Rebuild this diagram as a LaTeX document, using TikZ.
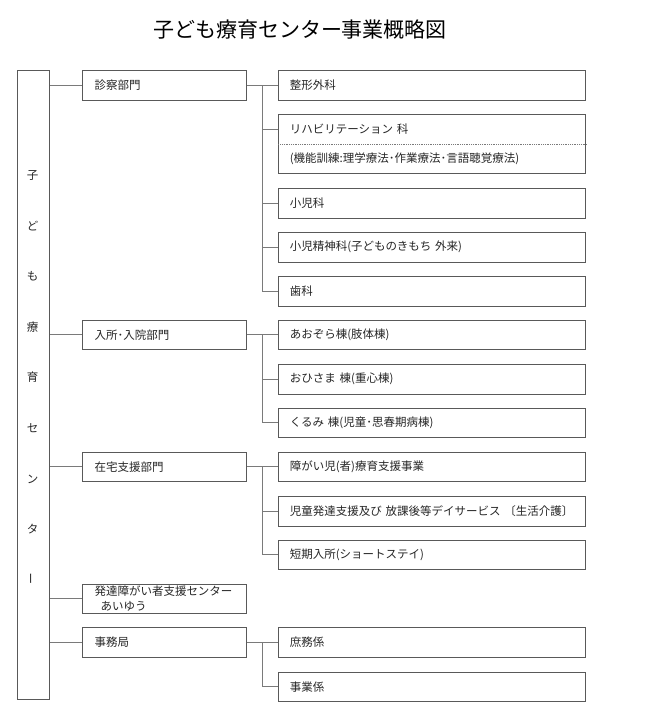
\documentclass[tikz,border=0pt]{standalone}
\usepackage{fontspec}
\setmainfont{Noto Sans CJK JP}
\usepackage{graphicx}
\usetikzlibrary{calc}
\definecolor{boxline}{HTML}{595959}
\definecolor{conline}{HTML}{7A7A7A}
\definecolor{txt}{HTML}{262626}
\begin{document}
\begin{tikzpicture}[x=1pt,y=-1pt,
  box/.style={draw=boxline, line width=1pt, rectangle, anchor=north west, inner ysep=0pt, text=txt, font=\fontsize{11.5}{14}\selectfont},
  dept/.style={box, minimum width=163.7pt, minimum height=29.5pt, inner xsep=12pt, text width=139.7pt, align=left},
  unit/.style={box, minimum width=307pt, minimum height=29.5pt, inner xsep=11pt, text width=285pt, align=left},
  conn/.style={draw=conline, line width=1pt},
  divider/.style={draw=conline, line width=0.8pt, densely dotted},
  vtext/.style={text=txt, align=center, inner sep=0pt, font=\fontsize{11.5}{50.6}\selectfont},
  titletext/.style={text=black, inner sep=0pt, font=\fontsize{21}{25}\selectfont}]
\useasboundingbox (0,0) rectangle (650,702);
\fill[white] (0,0) rectangle (650,702);

\node[titletext] (title) at (300,30) {子ども療育センター事業概略図};

% root box
\node[box, minimum width=32.6pt, minimum height=628.4pt, inner xsep=0pt] (root) at (16.7,70.3) {};
\node[vtext] (roottext) at (32.7,377.5) {子\\ど\\も\\療\\育\\セ\\ン\\タ\\\rotatebox{90}{ー}};

% departments
\node[dept] (d1) at (82,70.3) {診察部門};
\node[dept] (d2) at (82,319.7) {入所･入院部門};
\node[dept] (d3) at (82,451.7) {在宅支援部門};
\node[dept, font=\fontsize{11.5}{15}\selectfont] (d4) at (82,583.7) {発達障がい者支援センター\\\hspace*{6pt}あいゆう};
\node[dept] (d5) at (82,627.3) {事務局};

% units
\node[unit] (u1) at (278.3,70.3) {整形外科};
\node[unit, minimum height=59pt, font=\fontsize{11.5}{29.5}\selectfont] (u2) at (278.3,114.3) {リハビリテーション 科\\(機能訓練:理学療法･作業療法･言語聴覚療法)};
\node[unit] (u3) at (278.3,188.3) {小児科};
\node[unit] (u4) at (278.3,232) {小児精神科(子どものきもち 外来)};
\node[unit] (u5) at (278.3,276) {歯科};

\node[unit] (u6) at (278.3,319.7) {あおぞら棟(肢体棟)};
\node[unit] (u7) at (278.3,364) {おひさま 棟(重心棟)};
\node[unit] (u8) at (278.3,407.7) {くるみ 棟(児童･思春期病棟)};

\node[unit] (u9) at (278.3,451.7) {障がい児(者)療育支援事業};
\node[unit] (u10) at (278.3,496) {児童発達支援及び~放課後等デイサービス~〔生活介護〕};
\node[unit] (u11) at (278.3,539.7) {短期入所(ショートステイ)};

\node[unit] (u12) at (278.3,627.3) {庶務係};
\node[unit] (u13) at (278.3,671.7) {事業係};

\draw[divider] (u2.west) -- (u2.east);
\coordinate (u2top) at ($(u2.north west)!0.25!(u2.south west)$);

% root to departments
\foreach \d in {d1,d2,d3,d4,d5}
  \draw[conn] (root.east |- \d.west) -- (\d.west);

% trunks
\coordinate (t1) at ($(d1.east)!0.5!(u1.west)$);
\draw[conn] (d1.east) -- (u1.west);
\draw[conn] (t1) |- (u5.west);
\draw[conn] (t1 |- u2top) -- (u2top);
\foreach \u in {u3,u4}
  \draw[conn] (t1 |- \u.west) -- (\u.west);

\coordinate (t2) at ($(d2.east)!0.5!(u6.west)$);
\draw[conn] (d2.east) -- (u6.west);
\draw[conn] (t2) |- (u8.west);
\draw[conn] (t2 |- u7.west) -- (u7.west);

\coordinate (t3) at ($(d3.east)!0.5!(u9.west)$);
\draw[conn] (d3.east) -- (u9.west);
\draw[conn] (t3) |- (u11.west);
\draw[conn] (t3 |- u10.west) -- (u10.west);

\coordinate (t5) at ($(d5.east)!0.5!(u12.west)$);
\draw[conn] (d5.east) -- (u12.west);
\draw[conn] (t5) |- (u13.west);
\end{tikzpicture}
\end{document}
